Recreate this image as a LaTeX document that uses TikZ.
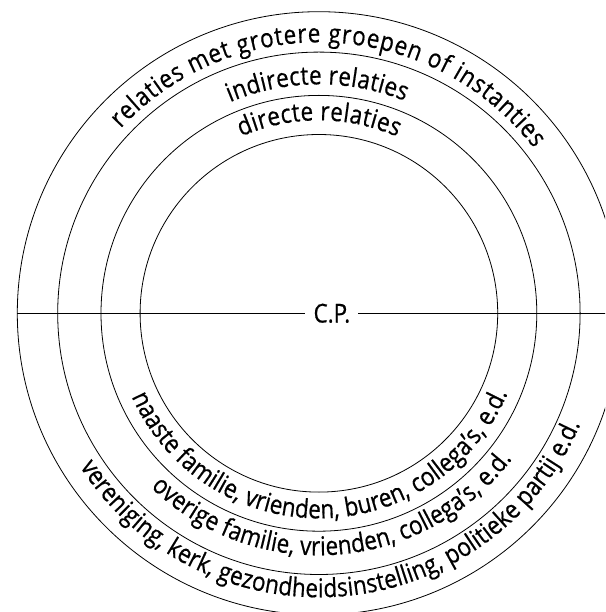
\documentclass[tikz,border=0pt]{standalone}
\usepackage{fontspec}
\setmainfont{Open Sans}[FakeStretch=0.86, FakeBold=0.6]
\usetikzlibrary{decorations.text}
\tikzset{
  ring/.style={draw=black, line width=0.8pt},
  arctext/.style={decorate, decoration={text along path, text={|\fontsize{26}{30}\selectfont|#1}, text align={fit to path}}}
}
\begin{document}
\begin{tikzpicture}[x=1pt,y=1pt, font=\fontsize{26}{30}\selectfont]
\useasboundingbox (-318.9,-298.7) rectangle (286.1,313.3);
\clip (-318.9,-298.7) rectangle (286.1,313.3);
\coordinate (O) at (0,0);
\draw[ring] (O) circle[radius=178.8];
\draw[ring] (O) circle[radius=217.9];
\draw[ring] (O) circle[radius=261.2];
\draw[ring] (O) circle[radius=301.6];
\coordinate (L) at (180:301.6);
\coordinate (R) at (295,0);
\node[inner xsep=8pt, inner ysep=0pt] (cp) at (13,0) {C.P.};
\draw[ring] (L) -- (cp.west);
\draw[ring] (cp.east) -- (R);
% top texts
\path[arctext={directe relaties}] (113.7:193) arc[start angle=113.7, end angle=66.1, radius=193];
\path[arctext={indirecte relaties}] (112.8:229) arc[start angle=112.8, end angle=68, radius=229];
\path[arctext={relaties met grotere groepen of instanties}] (137:271) arc[start angle=137, end angle=37.5, radius=271];
% bottom texts
\path[arctext={naaste familie, vrienden, buren, collega’s, e.d.}] (204:205) arc[start angle=204, end angle=337, radius=205];
\path[arctext={overige familie, vrienden, collega’s, e.d.}] (226:242) arc[start angle=226, end angle=323, radius=242];
\path[arctext={vereniging, kerk, gezondheidsinstelling, politieke partij e.d.}] (212.7:284) arc[start angle=212.7, end angle=337, radius=284];
\end{tikzpicture}
\end{document}
